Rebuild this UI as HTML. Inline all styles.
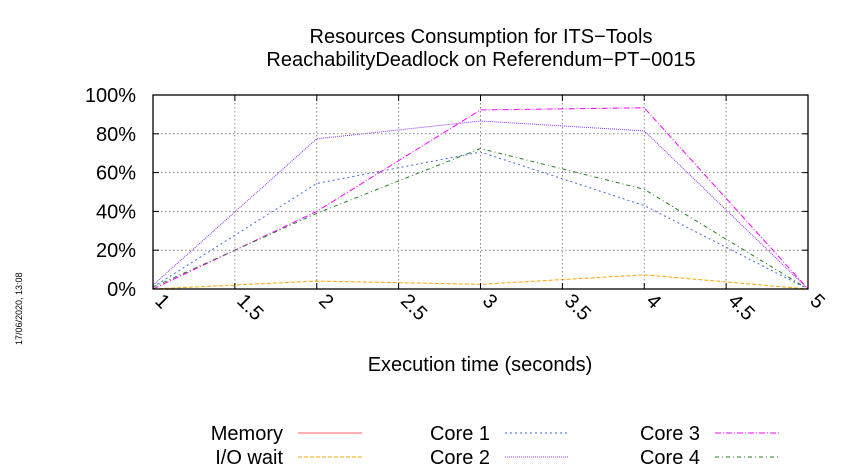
<!DOCTYPE html>
<html><head><meta charset="utf-8"><style>
body{margin:0;background:#fff;}
svg{display:block;font-family:"Liberation Sans",sans-serif;}
</style></head><body>
<svg id="chart" width="850" height="475" viewBox="0 0 850 475">
<text x="481" y="43" font-size="20" text-anchor="middle">Resources Consumption for ITS−Tools</text>
<text x="481" y="66" font-size="20" text-anchor="middle">ReachabilityDeadlock on Referendum−PT−0015</text>
<text x="0" y="0" font-size="9" transform="translate(22,345) rotate(-90)">17/06/2020, 13:08</text>
<text x="480" y="371" font-size="20" text-anchor="middle">Execution time (seconds)</text>
<g id="series"></g><g id="grid"></g><g id="legend"></g>
</svg>
<script>
const xTicks=[1,1.5,2,2.5,3,3.5,4,4.5,5];
const xTickLabels=["1","1.5","2","2.5","3","3.5","4","4.5","5"];
const yTicks=[0,20,40,60,80,100];
const yTickLabels=["0%","20%","40%","60%","80%","100%"];
const times=[1,2,3,4,5];
const memory=[0,0,0,0,0];
const ioWait=[0,4.1,2.4,7.3,0];
const core1=[1,54.4,70.6,43,0];
const core2=[2,77.4,86.6,81.5,0];
const core3=[0,40,92.3,93.4,0];
const core4=[1,39,72.4,51.4,0];
const NS="http://www.w3.org/2000/svg";
const L=153,R=808,T=95,B=289;
const xs=v=>L+(v-1)/4*(R-L), ys=v=>B-v/100*(B-T);
function mk(tag,attrs,parent){const e=document.createElementNS(NS,tag);for(const k in attrs)e.setAttribute(k,attrs[k]);parent.appendChild(e);return e;}
const grid=document.getElementById('grid');
xTicks.forEach((t,i)=>{
 const x=xs(t);
 if(i>0&&i<xTicks.length-1){const g=mk('line',{x1:x,x2:x,y1:T,y2:B,stroke:'#888','stroke-dasharray':'1.5,2.5','stroke-width':1},grid);
 
 }
 mk('line',{x1:x,x2:x,y1:B,y2:B-6,stroke:'#000'},grid);
 mk('line',{x1:x,x2:x,y1:T,y2:T+6,stroke:'#000'},grid);
 const tx=mk('text',{x:0,y:0,'font-size':20,transform:`translate(${x+1},${B+13}) rotate(45)`},grid);
 tx.textContent=xTickLabels[i];
 
 
});
yTicks.forEach((t,i)=>{
 const y=ys(t);
 if(i>0&&i<yTicks.length-1){const g=mk('line',{x1:L,x2:R,y1:y,y2:y,stroke:'#888','stroke-dasharray':'1.5,2.5','stroke-width':1},grid);
 
 }
 mk('line',{x1:L,x2:L+6,y1:y,y2:y,stroke:'#000'},grid);
 mk('line',{x1:R,x2:R-6,y1:y,y2:y,stroke:'#000'},grid);
 const tx=mk('text',{x:L-17,y:y+7,'font-size':20,'text-anchor':'end'},grid);
 tx.textContent=yTickLabels[i];
 
 
});
const frame=mk('rect',{x:L,y:T,width:R-L,height:B-T,fill:'none',stroke:'#000','stroke-width':1.3},grid);


const seriesDefs=[
 ['Memory',memory,'#ff6060','none','memory-line'],
 ['I/O wait',ioWait,'#ffa500','4,2','io-wait-line'],
 ['Core 1',core1,'#4169e1','2,3','core-1-line'],
 ['Core 2',core2,'#9030ff','1,1','core-2-line'],
 ['Core 3',core3,'#ff00ff','6,2,1,2','core-3-line'],
 ['Core 4',core4,'#208020','4,3,1,3','core-4-line']];
const sg=document.getElementById('series');
seriesDefs.forEach(s=>{
 const pts=times.map((t,i)=>xs(t)+','+ys(s[1][i])).join(' ');
 const p=mk('polyline',{points:pts,fill:'none',stroke:s[2],'stroke-width':1,'stroke-dasharray':s[3]},sg);
 
 
});
const lg=document.getElementById('legend');
const pos=[[283,440],[283,464],[490,440],[490,464],[700,440],[700,464]];
seriesDefs.forEach((s,i)=>{
 const [x,y]=pos[i];
 const tx=mk('text',{x:x,y:y,'font-size':20,'text-anchor':'end'},lg);
 tx.textContent=s[0];
 
 
 const ln=mk('line',{x1:x+15,x2:x+79,y1:y-7,y2:y-7,stroke:s[2],'stroke-width':1,'stroke-dasharray':s[3]},lg);
 
 
});
</script>
</body></html>
